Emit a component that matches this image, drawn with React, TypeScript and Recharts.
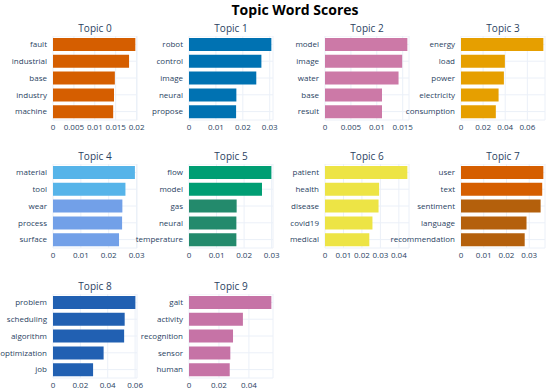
import React from "react";
import { BarChart, Bar, XAxis, YAxis, CartesianGrid, Cell } from "recharts";

const topic0Words = ["fault", "industrial", "base", "industry", "machine"];
const topic0Scores = [0.0197, 0.0182, 0.0148, 0.0146, 0.0144];
const topic1Words = ["robot", "control", "image", "neural", "propose"];
const topic1Scores = [0.0306, 0.0269, 0.025, 0.0176, 0.0175];
const topic2Words = ["model", "image", "water", "base", "result"];
const topic2Scores = [0.0159, 0.0149, 0.0142, 0.011, 0.011];
const topic3Words = ["energy", "load", "power", "electricity", "consumption"];
const topic3Scores = [0.0745, 0.0397, 0.0388, 0.034, 0.0315];
const topic4Words = ["material", "tool", "wear", "process", "surface"];
const topic4Scores = [0.0294, 0.026, 0.0249, 0.0248, 0.0237];
const topic5Words = ["flow", "model", "gas", "neural", "temperature"];
const topic5Scores = [0.0299, 0.0265, 0.0173, 0.0172, 0.0172];
const topic6Words = ["patient", "health", "disease", "covid19", "medical"];
const topic6Scores = [0.0446, 0.0293, 0.029, 0.0257, 0.024];
const topic7Words = ["user", "text", "sentiment", "language", "recommendation"];
const topic7Scores = [0.0362, 0.0357, 0.035, 0.0288, 0.028];
const topic8Words = ["problem", "scheduling", "algorithm", "optimization", "job"];
const topic8Scores = [0.0602, 0.0524, 0.052, 0.037, 0.0293];
const topic9Words = ["gait", "activity", "recognition", "sensor", "human"];
const topic9Scores = [0.055, 0.036, 0.0294, 0.0276, 0.0272];

const topic0Ticks = [0, 0.005, 0.01, 0.015, 0.02];
const topic1Ticks = [0, 0.01, 0.02, 0.03];
const topic2Ticks = [0, 0.005, 0.01, 0.015];
const topic3Ticks = [0, 0.02, 0.04, 0.06];
const topic4Ticks = [0, 0.01, 0.02, 0.03];
const topic5Ticks = [0, 0.01, 0.02, 0.03];
const topic6Ticks = [0, 0.01, 0.02, 0.03, 0.04];
const topic7Ticks = [0, 0.01, 0.02, 0.03];
const topic8Ticks = [0, 0.02, 0.04, 0.06];
const topic9Ticks = [0, 0.02, 0.04];

const topics = [
  { words: topic0Words, scores: topic0Scores, ticks: topic0Ticks },
  { words: topic1Words, scores: topic1Scores, ticks: topic1Ticks },
  { words: topic2Words, scores: topic2Scores, ticks: topic2Ticks },
  { words: topic3Words, scores: topic3Scores, ticks: topic3Ticks },
  { words: topic4Words, scores: topic4Scores, ticks: topic4Ticks },
  { words: topic5Words, scores: topic5Scores, ticks: topic5Ticks },
  { words: topic6Words, scores: topic6Scores, ticks: topic6Ticks },
  { words: topic7Words, scores: topic7Scores, ticks: topic7Ticks },
  { words: topic8Words, scores: topic8Scores, ticks: topic8Ticks },
  { words: topic9Words, scores: topic9Scores, ticks: topic9Ticks },
];

// bar colours per panel (some panels have tinted lower bars in the picture)
const COLORS: string[][] = [
  ["#D55E00", "#D55E00", "#D55E00", "#D55E00", "#D55E00"],
  ["#0072B2", "#0072B2", "#0072B2", "#0072B2", "#0072B2"],
  ["#CC79A7", "#CC79A7", "#CC79A7", "#CC79A7", "#CC79A7"],
  ["#E69F00", "#E69F00", "#E69F00", "#E69F00", "#E69F00"],
  ["#56B4E9", "#56B4E9", "#72A0E8", "#72A0E8", "#72A0E8"],
  ["#009E73", "#009E73", "#238A6C", "#238A6C", "#238A6C"],
  ["#EDE445", "#EDE445", "#EDE445", "#EDE445", "#EDE445"],
  ["#D55E00", "#D55E00", "#B4600C", "#B4600C", "#B4600C"],
  ["#2160B2", "#2160B2", "#2160B2", "#2160B2", "#2160B2"],
  ["#C673A6", "#C673A6", "#C673A6", "#C673A6", "#C673A6"],
];

const COL_X = [53, 189, 325, 461];
const ROW_Y = [36, 164, 294];
const PLOT_W = 84;
const PLOT_H = 84;
const Y_W = 75;
const X_H = 14;
const RIGHT = 16;
const TEXT = "#2a3f5f";
const FONT = "'Open Sans', 'DejaVu Sans', sans-serif";

const fmt = (v: number) => (v === 0 ? "0" : String(v));

function Panel({ index }: { index: number }) {
  const t = topics[index];
  const data = t.words.map((w, i) => ({ word: w, score: t.scores[i] }));
  const max = Math.max(Math.max(...t.scores) * 1.02, t.ticks[t.ticks.length - 1] * 1.005);
  const x0 = COL_X[index % 4];
  const y0 = ROW_Y[Math.floor(index / 4)];
  return (
    <>
      <div
        style={{
          position: "absolute",
          left: x0 - 30,
          width: PLOT_W + 60,
          top: y0 - 14,
          textAlign: "center",
          fontSize: 10,
          lineHeight: "12px",
          color: TEXT,
          fontFamily: FONT,
        }}
      >
        Topic {index}
      </div>
      <div style={{ position: "absolute", left: x0 - Y_W, top: y0 }}>
        <BarChart
          width={Y_W + PLOT_W + RIGHT}
          height={PLOT_H + X_H}
          data={data}
          layout="vertical"
          margin={{ top: 0, right: RIGHT, bottom: 0, left: 0 }}
          barSize={13}
        >
          <CartesianGrid stroke="#EBF0F8" vertical horizontal />
          <XAxis
            type="number"
            domain={[0, max]}
            ticks={t.ticks}
            tickFormatter={fmt}
            axisLine={false}
            tickLine={false}
            tickSize={0}
            tickMargin={4}
            height={X_H}
            interval={0}
            tick={{ fontSize: 8, fill: TEXT, fontFamily: FONT }}
          />
          <YAxis
            type="category"
            dataKey="word"
            width={Y_W}
            axisLine={false}
            tickLine={false}
            tickSize={0}
            tickMargin={6}
            interval={0}
            tick={{ fontSize: 8, fill: TEXT, fontFamily: FONT }}
          />
          <Bar dataKey="score" isAnimationActive={false}>
            {data.map((d, i) => (
              <Cell key={`cell-${i}`} fill={COLORS[index][i]} />
            ))}
          </Bar>
        </BarChart>
      </div>
    </>
  );
}

export default function App() {
  return (
    <div
      style={{
        position: "absolute",
        left: 0,
        top: 0,
        width: 550,
        height: 392,
        background: "#fff",
        fontFamily: FONT,
      }}
    >
      <div
        style={{
          position: "absolute",
          left: 195,
          width: 200,
          top: 1,
          textAlign: "center",
          fontSize: 14,
          fontWeight: "bold",
          color: "#000",
          lineHeight: "17px",
        }}
      >
        Topic Word Scores
      </div>
      {topics.map((_, i) => (
        <Panel key={i} index={i} />
      ))}
    </div>
  );
}
